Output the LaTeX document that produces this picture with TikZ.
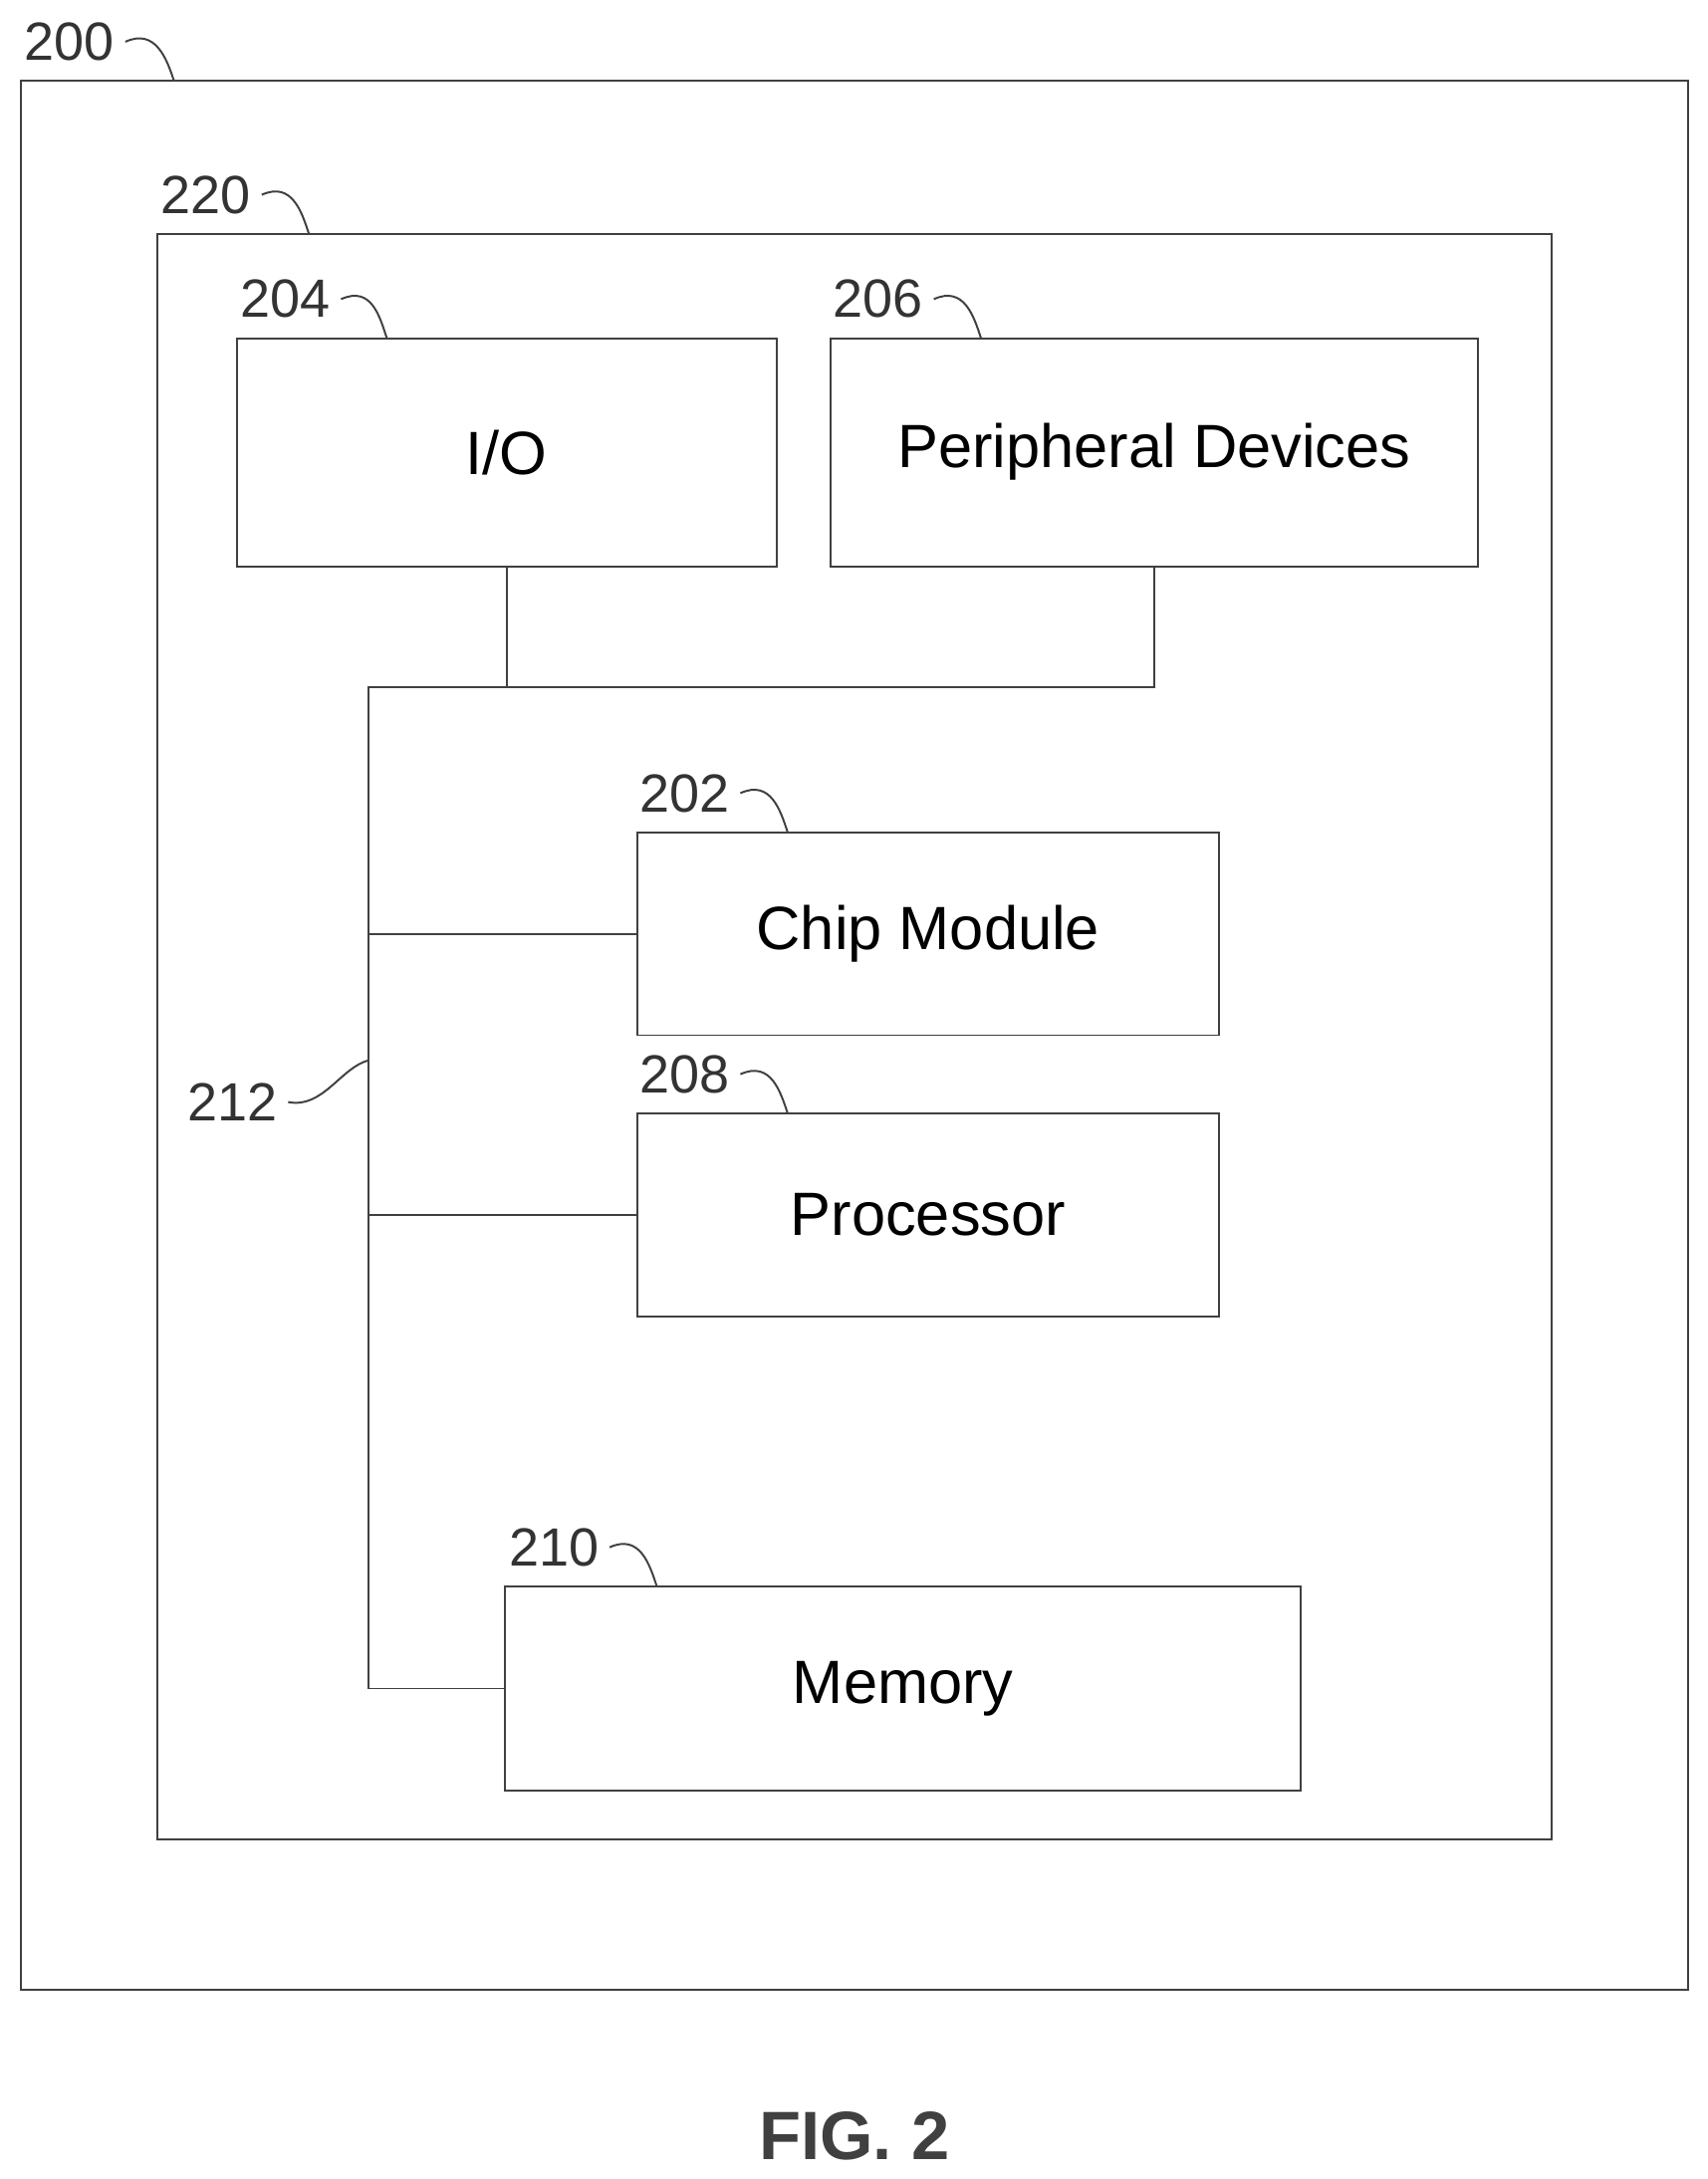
\documentclass[tikz,border=0pt]{standalone}
\usepackage{fontspec}
\setmainfont{Liberation Sans}
\begin{document}
\begin{tikzpicture}[x=0.02cm,y=-0.02cm,box/.style={draw=black!75,thick,minimum height=3.28cm,font=\fontsize{25}{27}\selectfont}]
		\tikzstyle{frame}=[draw=black!75,thick]
		\tikzstyle{ref}=[font=\fontsize{22}{24}\selectfont,inner sep=0pt,text=black!80]
		\tikzstyle{line}=[draw=black!75,thick]
		\tikzstyle{lead}=[draw=black!75,thick]
		\useasboundingbox (0,0) rectangle (1227,1566);
		\node[frame,minimum width=23.96cm,minimum height=27.44cm] (sys) at (614,744){};
		\node[frame,minimum width=20.04cm,minimum height=23.08cm] (dev) at (614,745){};
		\node[box,minimum width=7.76cm] (io) at (364,325){I/O};
		\node[box,minimum width=9.3cm] (pd) at (829.5,325){Peripheral Devices};
		\node[box,minimum width=8.36cm,minimum height=2.92cm] (chip) at (667,671){Chip Module};
		\node[box,minimum width=8.36cm,minimum height=2.92cm] (cpu) at (667,873){Processor};
		\node[box,minimum width=11.44cm,minimum height=2.94cm] (mem) at (649,1213.5){Memory};
		% bus
		\coordinate (bt) at (265,494);
		\coordinate (bb) at (265,1213.5);
		\path[line] (pd.south) |- (bt) -- (bb) -- (mem.west);
		\path[line] (io.south) -- (io.south |- bt);
		\path[line] (chip.west) -- (chip.west -| bt);
		\path[line] (cpu.west) -- (cpu.west -| bt);
		% reference numerals
		\foreach \n/\x/\y in {200/50/30,220/148/140,204/205/215,206/631/215,202/492/570,208/492/772,210/398/1112}
		{\node[ref] (l\n) at (\x,\y){\n};}
		\draw[lead] ([xshift=0.15cm]l200.east) .. controls +(22,-10) and +(-5,-15) .. (125,58);
		\draw[lead] ([xshift=0.15cm]l220.east) .. controls +(22,-10) and +(-5,-15) .. (222,168);
		\draw[lead] ([xshift=0.15cm]l204.east) .. controls +(22,-10) and +(-5,-15) .. (278,243);
		\draw[lead] ([xshift=0.15cm]l206.east) .. controls +(22,-10) and +(-5,-15) .. (705,243);
		\draw[lead] ([xshift=0.15cm]l202.east) .. controls +(22,-10) and +(-5,-15) .. (566,598);
		\draw[lead] ([xshift=0.15cm]l208.east) .. controls +(22,-10) and +(-5,-15) .. (566,800);
		\draw[lead] ([xshift=0.15cm]l210.east) .. controls +(22,-10) and +(-5,-15) .. (472,1140);
		\node[ref] (l212) at (167,792){212};
		\draw[lead] ([xshift=0.15cm]l212.east) .. controls +(25,5) and +(-20,5) .. (265,762);
		\node[font=\bfseries\fontsize{28}{30}\selectfont,text=black!75] (fig) at (614,1535){FIG. 2};
\end{tikzpicture}
\end{document}
